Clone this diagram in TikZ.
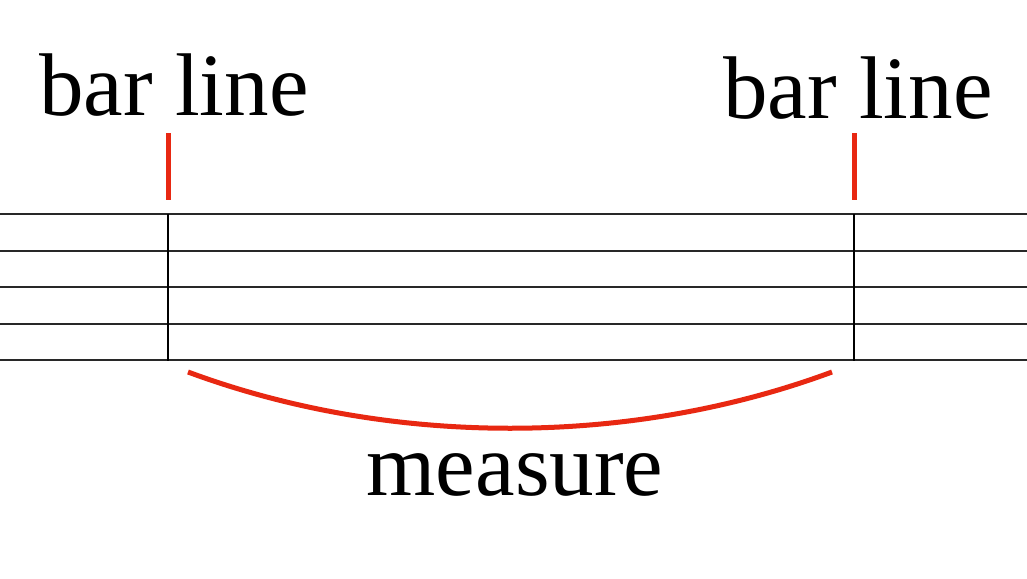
\documentclass[tikz,border=0pt]{standalone}
\usepackage{fontspec}
\setmainfont{Liberation Serif}
\definecolor{mark}{RGB}{232,40,18}
\definecolor{staff}{RGB}{40,40,40}
\begin{document}
\begin{tikzpicture}[x=1pt,y=-1pt,
  staffline/.style={draw=staff,line width=2.6pt},
  barline/.style={draw=black,line width=2.8pt},
  redmark/.style={draw=mark,line width=5pt},
  label/.style={font=\fontsize{89}{100}\selectfont,anchor=base,inner sep=0pt}]
\useasboundingbox[fill=white] (0,0) rectangle (1027,578);
% staff
\foreach \y in {214,251,287,324,360}{
  \draw[staffline] (0,\y) -- (1027,\y);
}
\coordinate (b1t) at (168,214);
\coordinate (b1b) at (168,361);
\coordinate (b2t) at (854,214);
\coordinate (b2b) at (854,361);
\draw[barline] (b1t) -- (b1b);
\draw[barline] (b2t) -- (b2b);
% labels
\node[label] (l1) at (174,115) {bar line};
\node[label] (l2) at (858,118) {bar line};
\node[label] (m) at (515,495) {measure};
% red ticks
\coordinate (t1a) at (168,133);
\coordinate (t1b) at (168,200);
\coordinate (t2a) at (854,133);
\coordinate (t2b) at (854,200);
\draw[redmark] (t1a) -- (t1b);
\draw[redmark] (t2a) -- (t2b);
% arc
\coordinate (a1) at (188,372);
\coordinate (a2) at (832,372);
\draw[redmark] (a1) .. controls (390,447) and (630,447) .. (a2);
\end{tikzpicture}
\end{document}
